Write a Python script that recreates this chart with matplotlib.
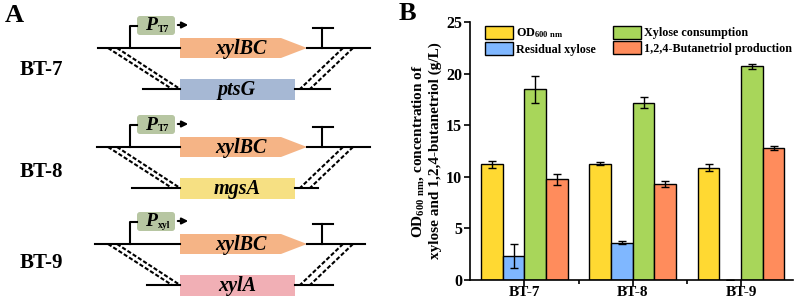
import numpy as np
import matplotlib.pyplot as plt
from matplotlib.patches import Rectangle, Polygon, FancyBboxPatch

plt.rcParams['font.family'] = ['Liberation Serif', 'DejaVu Serif']
plt.rcParams['mathtext.fontset'] = 'custom'
plt.rcParams['mathtext.rm'] = 'Liberation Serif:bold'
plt.rcParams['mathtext.bf'] = 'Liberation Serif:bold'
plt.rcParams['mathtext.default'] = 'bf'

# ---- panel B data ----
strains = ['BT-7', 'BT-8', 'BT-9']
series_names = ['OD$_{600\\ nm}$', 'Residual xylose', 'Xylose consumption',
                '1,2,4-Butanetriol production']
od600 = [11.2, 11.25, 10.9]
od600_err = [0.3, 0.15, 0.3]
residual = [2.3, 3.6, 0.0]
residual_err = [1.15, 0.15, 0.0]
consumption = [18.5, 17.2, 20.7]
consumption_err = [1.3, 0.5, 0.2]
btol = [9.75, 9.3, 12.8]
btol_err = [0.55, 0.25, 0.2]
bar_colors = ['#FFD932', '#7FB7FF', '#A8D65A', '#FF8C5C']

# ---- panel A constructs ----
promoters = ['T7', 'T7', 'xyl']
knocked_genes = ['ptsG', 'mgsA', 'xylA']
knocked_colors = ['#A6B8D4', '#F6E083', '#F1AFB5']
insert_color = '#F5B486'
promoter_color = '#B7C6A2'

fig = plt.figure(figsize=(7.97, 3.03), dpi=100)

# schematic drawn in pixel coordinates
axA = fig.add_axes([0, 0, 1, 1])
axA.set_xlim(0, 797)
axA.set_ylim(303, 0)
axA.axis('off')


def draw_construct(ax, y0, promoter, gene, gcolor, top_ext, bot_ext):
    # top line (insert)
    ax.plot([top_ext[0], 180], [y0, y0], color='black', lw=1.5)
    ax.plot([307, top_ext[1]], [y0, y0], color='black', lw=1.5)
    # promoter
    ax.plot([130, 130, 137], [y0, y0 - 22, y0 - 22], color='black', lw=1.5)
    ax.add_patch(FancyBboxPatch((137, y0 - 32), 38, 19,
                                boxstyle='round,pad=0,rounding_size=3',
                                fc=promoter_color, ec='none'))
    ax.text(151, y0 - 22, 'P', fontsize=14, fontweight='bold',
            style='italic', ha='center', va='center')
    ax.text(158, y0 - 18.5, promoter, fontsize=7, fontweight='bold',
            ha='left', va='center')
    ax.annotate('', xy=(191, y0 - 23), xytext=(175, y0 - 23),
                arrowprops=dict(arrowstyle='-|>', color='black', lw=1.5,
                                mutation_scale=9))
    # xylBC arrow
    ax.add_patch(Polygon([(180, y0 - 10), (281, y0 - 10), (307, y0),
                          (281, y0 + 10), (180, y0 + 10)],
                         closed=True, fc=insert_color, ec='none'))
    ax.text(241, y0 + 1, 'xylBC', fontsize=14.5, fontweight='bold',
            style='italic', ha='center', va='center')
    # terminator
    ax.plot([322, 322], [y0, y0 - 20], color='black', lw=1.5)
    ax.plot([313, 333], [y0 - 20, y0 - 20], color='black', lw=1.5)
    # genome line with knocked gene
    yb = y0 + 41
    ax.plot([bot_ext[0], 180], [yb, yb], color='black', lw=1.5)
    ax.plot([295, bot_ext[1]], [yb, yb], color='black', lw=1.5)
    ax.add_patch(Rectangle((180, yb - 10), 115, 21, fc=gcolor, ec='none'))
    ax.text(237, yb + 1, gene, fontsize=14.5, fontweight='bold',
            style='italic', ha='center', va='center')
    # homologous arms (crossover)
    kw = dict(color='black', lw=1.5, ls=(0, (2.0, 1.0)))
    ax.plot([108, 172], [y0, yb], **kw)
    ax.plot([117, 180], [y0, yb], **kw)
    ax.plot([343, 300], [y0, yb], **kw)
    ax.plot([353, 310], [y0, yb], **kw)


tops = [48, 147, 244]
top_exts = [(98, 370), (97, 370), (95, 365)]
bot_exts = [(143, 330), (132, 318), (147, 333)]
label_y = [70, 172, 263]
for i in range(3):
    draw_construct(axA, tops[i], promoters[i], knocked_genes[i],
                   knocked_colors[i], top_exts[i], bot_exts[i])
    axA.text(41, label_y[i], strains[i], fontsize=15, fontweight='bold',
             ha='center', va='center')
axA.text(5, 15, 'A', fontsize=19, fontweight='bold', ha='left', va='center')
axA.text(399, 13, 'B', fontsize=19, fontweight='bold', ha='left', va='center')

# ---- panel B ----
ax = fig.add_axes([0.590, 0.076, 0.405, 0.851])
x = np.arange(1, len(strains) + 1)
w = 0.2
vals = [od600, residual, consumption, btol]
errs = [od600_err, residual_err, consumption_err, btol_err]
for k in range(4):
    ax.bar(x + (k - 1.5) * w, vals[k], w, yerr=errs[k], color=bar_colors[k],
           edgecolor='black', linewidth=1.0, label=series_names[k],
           error_kw=dict(elinewidth=1.0, capsize=3, capthick=1.0))

ax.set_xlim(0.5, 3.48)
ax.set_ylim(0, 25)
ax.set_yticks([0, 5, 10, 15, 20, 25])
ax.set_xticks(x)
ax.set_xticklabels(strains)
ax.set_xticks([1.5, 2.5], minor=True)
ax.tick_params(axis='both', which='major', labelsize=11.5, width=1.2, length=4,
               direction='out')
ax.tick_params(axis='x', which='major', labelsize=11, pad=0.5)
ax.tick_params(axis='y', which='major', pad=2)
ax.tick_params(axis='x', which='minor', width=1.2, length=3)
for lab in ax.get_xticklabels() + ax.get_yticklabels():
    lab.set_fontweight('bold')
for s in ['top', 'right']:
    ax.spines[s].set_visible(False)
for s in ['left', 'bottom']:
    ax.spines[s].set_linewidth(1.2)
ax.set_ylabel('OD$_{600\\ nm}$, concentration of\nxylose and 1,2,4-butanetriol (g/L)',
              fontsize=11, fontweight='bold', labelpad=3, linespacing=1.2)

leg = ax.legend(ncol=2, loc='upper left', bbox_to_anchor=(0.03, 1.005),
                frameon=False, fontsize=8.7, handlelength=2.3,
                handleheight=1.3, columnspacing=1.4, labelspacing=0.15,
                handletextpad=0.3, borderaxespad=0)
for t in leg.get_texts():
    t.set_fontweight('bold')

fig.savefig('out.png', dpi=100)
